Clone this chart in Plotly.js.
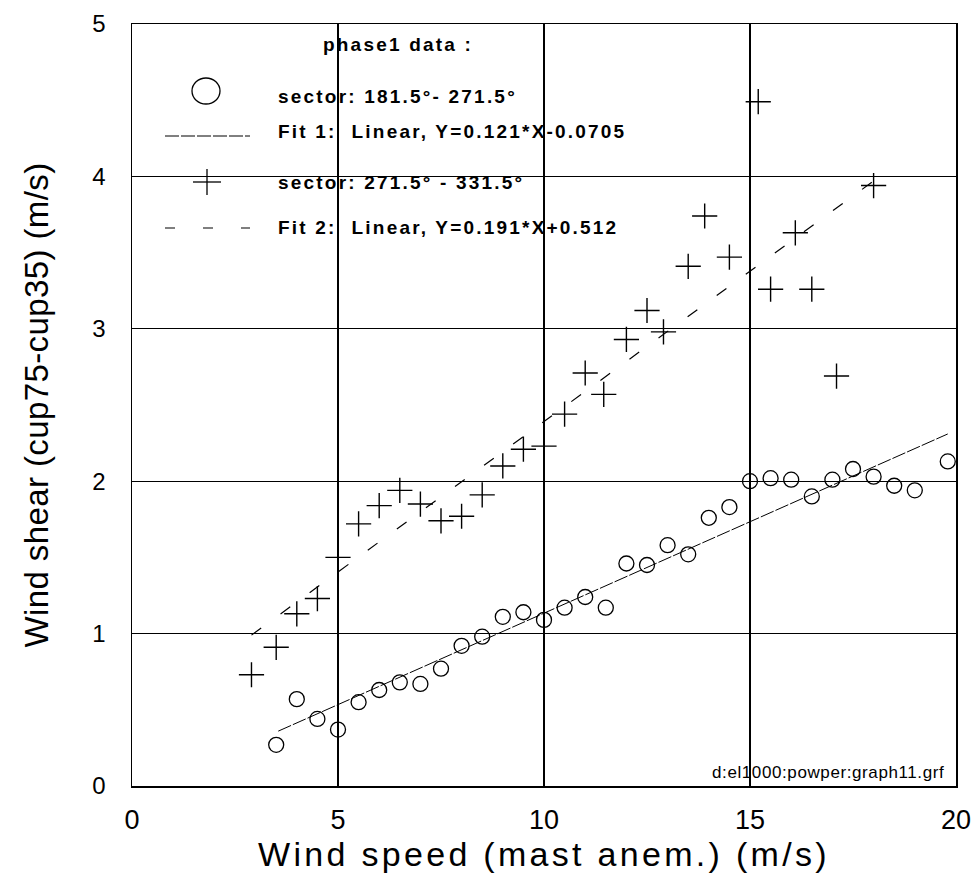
<!DOCTYPE html>
<html>
<head>
<meta charset="utf-8">
<script src="https://cdn.plot.ly/plotly-3.0.1.min.js"></script>
<style>
  html, body { margin: 0; padding: 0; background: #ffffff; }
  #chart { width: 976px; height: 876px; }
</style>
</head>
<body>
<div id="chart"></div>
<script>
// ---- data ----
const windSpeed1 = [3.5, 4.0, 4.5, 5.0, 5.5, 6.0, 6.5, 7.0, 7.5, 8.0, 8.5, 9.0, 9.5, 10.0, 10.5, 11.0, 11.5, 12.0, 12.5, 13.0, 13.5, 14.0, 14.5, 15.0, 15.5, 16.0, 16.5, 17.0, 17.5, 18.0, 18.5, 19.0, 19.8];
const shear1     = [0.27, 0.57, 0.44, 0.37, 0.55, 0.63, 0.68, 0.67, 0.77, 0.92, 0.98, 1.11, 1.14, 1.09, 1.17, 1.24, 1.17, 1.46, 1.45, 1.58, 1.52, 1.76, 1.83, 2.00, 2.02, 2.01, 1.90, 2.01, 2.08, 2.03, 1.97, 1.94, 2.13];

const windSpeed2 = [2.9, 3.5, 4.0, 4.5, 5.0, 5.5, 6.0, 6.5, 7.0, 7.5, 8.0, 8.5, 9.0, 9.5, 10.0, 10.5, 11.0, 11.45, 12.0, 12.5, 12.9, 13.5, 13.9, 14.5, 15.2, 15.5, 16.1, 16.5, 17.1, 18.0];
const shear2     = [0.73, 0.91, 1.13, 1.23, 1.50, 1.72, 1.84, 1.94, 1.85, 1.74, 1.77, 1.91, 2.10, 2.21, 2.23, 2.44, 2.71, 2.57, 2.93, 3.12, 2.98, 3.41, 3.74, 3.47, 4.49, 3.26, 3.63, 3.26, 2.69, 3.94];

// fit line end points as drawn
const fit1X = [3.55, 19.8];
const fit1Y = [0.36, 2.31];
const fit2X = [2.9, 18.0];
const fit2Y = [0.99, 3.97];

const xTickVals = [0, 5, 10, 15, 20];
const yTickVals = [0, 1, 2, 3, 4, 5];

const legendTitle = "phase1 data :";
const legendLabels = [
  "sector: 181.5°- 271.5°",
  "Fit 1:  Linear, Y=0.121*X-0.0705",
  "sector: 271.5° - 331.5°",
  "Fit 2:  Linear, Y=0.191*X+0.512"
];
const footerText = "d:el1000:powper:graph11.grf";
const xTitle = "Wind speed (mast anem.) (m/s)";
const yTitle = "Wind shear (cup75-cup35) (m/s)";

// ---- traces ----
const traces = [
  { x: windSpeed1, y: shear1, type: 'scatter', mode: 'markers', name: legendLabels[0],
    marker: { symbol: 'circle-open', size: 15, color: '#000', line: { width: 1.3, color: '#000' } } },
  { x: fit1X, y: fit1Y, type: 'scatter', mode: 'lines', name: legendLabels[1],
    line: { color: '#000', width: 1, dash: '14px,2px' } },
  { x: windSpeed2, y: shear2, type: 'scatter', mode: 'markers', name: legendLabels[2],
    marker: { symbol: 'cross-thin-open', size: 18, color: '#000', line: { width: 1.4, color: '#000' } } },
  { x: fit2X, y: fit2Y, type: 'scatter', mode: 'lines', name: legendLabels[3],
    line: { color: '#000', width: 1.2, dash: '12px,24px' } }
];

// ---- legend drawn as layout decoration (paper coords) ----
const M = { l: 132, r: 20, t: 24, b: 90 };
const PW = 976 - M.l - M.r, PH = 876 - M.t - M.b;
const px = v => (v - M.l) / PW;
const py = v => (876 - M.b - v) / PH;

const spaced = (s, ls, bold) => '<span style="letter-spacing:' + ls + 'px">' + (bold ? '<b>' + s + '</b>' : s) + '</span>';

const legFont = { family: 'Liberation Sans, Arial, sans-serif', size: 19, color: '#000' };
const annotations = [
  { text: spaced(legendTitle, 2.2, true), x: px(321), y: py(45) },
  { text: spaced(legendLabels[0], 2.2, true), x: px(276), y: py(96) },
  { text: spaced(legendLabels[1], 2.2, true), x: px(276), y: py(132) },
  { text: spaced(legendLabels[2], 2.2, true), x: px(276), y: py(182) },
  { text: spaced(legendLabels[3], 2.2, true), x: px(276), y: py(228) }
].map(a => Object.assign({ xref: 'paper', yref: 'paper', xanchor: 'left', yanchor: 'middle',
  showarrow: false, font: legFont }, a));
annotations.push({ text: spaced(footerText, 0.6, false), xref: 'paper', yref: 'paper', x: px(946), y: py(772),
  xanchor: 'right', yanchor: 'middle', showarrow: false,
  font: { family: 'Liberation Sans, Arial, sans-serif', size: 17, color: '#000' } });

const shapes = [
  { type: 'circle', xref: 'paper', yref: 'paper', x0: px(192), x1: px(220), y0: py(104), y1: py(78),
    line: { color: '#000', width: 1.3 } },
  { type: 'line', xref: 'paper', yref: 'paper', x0: px(165), x1: px(250), y0: py(136), y1: py(136),
    line: { color: '#000', width: 1, dash: '14px,2px' } },
  { type: 'line', xref: 'paper', yref: 'paper', x0: px(193), x1: px(221), y0: py(182), y1: py(182),
    line: { color: '#000', width: 1.3 } },
  { type: 'line', xref: 'paper', yref: 'paper', x0: px(207), x1: px(207), y0: py(169), y1: py(195),
    line: { color: '#000', width: 1.3 } },
  { type: 'line', xref: 'paper', yref: 'paper', x0: px(165), x1: px(250), y0: py(228), y1: py(228),
    line: { color: '#000', width: 1.2, dash: '10px,28px' } }
];

const axisCommon = {
  showgrid: true, gridcolor: '#000', gridwidth: 1.2,
  showline: true, mirror: true, linecolor: '#000', linewidth: 1.5,
  zeroline: false, ticks: '', automargin: false, fixedrange: true
};

const layout = {
  width: 976, height: 876,
  margin: M,
  paper_bgcolor: '#fff', plot_bgcolor: '#fff',
  showlegend: false,
  font: { family: 'Liberation Sans, Arial, sans-serif', color: '#000' },
  xaxis: Object.assign({}, axisCommon, {
    range: [0, 20], tickvals: xTickVals, ticklabelstandoff: 9,
    tickfont: { family: 'Liberation Sans, Arial, sans-serif', size: 27, color: '#000' },
    title: { text: spaced(xTitle, 3.3, false), standoff: 6, font: { family: 'Liberation Sans, Arial, sans-serif', size: 34, color: '#000' } }
  }),
  yaxis: Object.assign({}, axisCommon, {
    range: [0, 5], tickvals: yTickVals, ticklabelstandoff: 20,
    tickfont: { family: 'Liberation Sans, Arial, sans-serif', size: 24, color: '#000' },
    title: { text: '\u00A0\u00A0\u00A0' + spaced(yTitle, 0.4, false), standoff: 34, font: { family: 'Liberation Sans, Arial, sans-serif', size: 33, color: '#000' } }
  }),
  annotations: annotations,
  shapes: shapes
};

Plotly.newPlot('chart', traces, layout, { staticPlot: true, displayModeBar: false });
</script>
</body>
</html>
